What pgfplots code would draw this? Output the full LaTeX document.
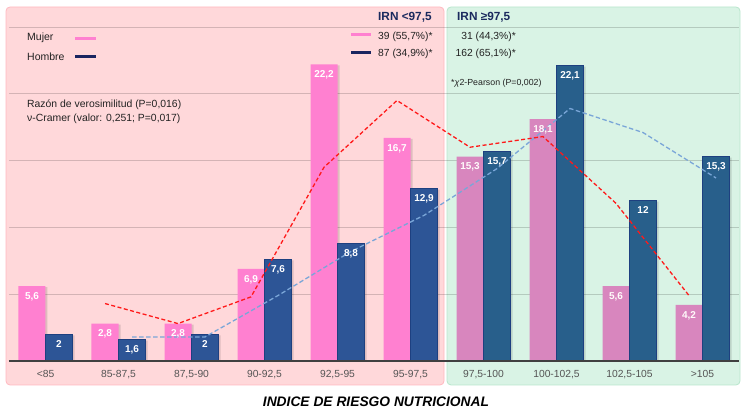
\documentclass[border=0pt]{standalone}
\usepackage{pgfplots}
\pgfplotsset{compat=1.18}
\usepackage{fontspec}
\setmainfont{Liberation Sans}
\definecolor{pinkbg}{HTML}{FFD8DA}
\definecolor{pinkbd}{HTML}{FFB8C0}
\definecolor{greenbg}{HTML}{D9F3E5}
\definecolor{greenbd}{HTML}{B8E6CC}
\definecolor{mujA}{HTML}{FF80D0}
\definecolor{mujB}{HTML}{D886BE}
\definecolor{homA}{HTML}{2D5596}
\definecolor{homB}{HTML}{285F8B}
\definecolor{homBd}{HTML}{1E4080}
\definecolor{redl}{HTML}{FF1A1A}
\definecolor{bluel}{HTML}{7AA6D8}
\definecolor{navy}{HTML}{1B2A5E}
\definecolor{navyl}{HTML}{1A2560}
\definecolor{ticktxt}{HTML}{555555}
\definecolor{txt}{HTML}{222222}
\begin{document}
\begin{tikzpicture}[x=1pt,y=1pt]
\useasboundingbox (0,0) rectangle (750,414);
\filldraw[fill=pinkbg, draw=pinkbd, line width=0.8pt, rounded corners=4pt] (6,29) rectangle (444,407);
\filldraw[fill=greenbg, draw=greenbd, line width=0.8pt, rounded corners=4pt] (447,29) rectangle (740,407);
\begin{axis}[
  at={(9pt,53pt)}, anchor=south west, scale only axis,
  width=730pt, height=334pt,
  xmin=-0.5, xmax=9.5, ymin=0, ymax=25,
  axis line style={draw=none}, major tick length=0pt,
  xtick={0,...,9},
  xticklabels={{<85},{85-87,5},{87,5-90},{90-92,5},{92,5-95},{95-97,5},{97,5-100},{100-102,5},{102,5-105},{>105}},
  ytick={5,10,...,25}, yticklabels={},
  ymajorgrids, grid style={black, opacity=0.17, line width=0.7pt},
  xticklabel style={font=\fontsize{10.3}{12}\selectfont, text=ticktxt, text height=7.5pt, text depth=0pt, inner sep=0pt, anchor=north, yshift=-9pt},
  clip=false,
  every node near coord/.append style={font=\bfseries\fontsize{10}{12}\selectfont, text height=7.2pt, text depth=0pt, inner sep=0pt, yshift=-13.5pt},
  /pgf/number format/.cd, use comma, assume math mode=true
]
% shadows
\addplot[ybar, bar width=27pt, bar shift=-11.5pt, fill=black, opacity=0.13, draw=none, forget plot, yshift=-1pt]
  coordinates {(0,5.6)(1,2.8)(2,2.8)(3,6.9)(4,22.2)(5,16.7)(6,15.3)(7,18.1)(8,5.6)(9,4.2)};
% Mujer
\addplot[ybar, bar width=27pt, bar shift=-13.5pt, fill=mujA, draw=none, nodes near coords, every node near coord/.append style={text=white, xshift=-13.5pt}]
  coordinates {(0,5.6)(1,2.8)(2,2.8)(3,6.9)(4,22.2)(5,16.7)};
\addplot[ybar, bar width=27pt, bar shift=-13.5pt, fill=mujB, draw=none, nodes near coords, every node near coord/.append style={text=white!92!pink, xshift=-13.5pt}]
  coordinates {(6,15.3)(7,18.1)(8,5.6)(9,4.2)};
\addplot[ybar, bar width=27pt, bar shift=15.5pt, fill=black, opacity=0.13, draw=none, forget plot, yshift=-1pt]
  coordinates {(0,2)(1,1.6)(2,2)(3,7.6)(4,8.8)(5,12.9)(6,15.7)(7,22.1)(8,12)(9,15.3)};
% Hombre
\addplot[ybar, bar width=27pt, bar shift=13.5pt, fill=homA, draw=homBd, line width=0.7pt, nodes near coords, every node near coord/.append style={text=white, xshift=13.5pt}]
  coordinates {(0,2)(1,1.6)(2,2)(3,7.6)(4,8.8)(5,12.9)};
\addplot[ybar, bar width=27pt, bar shift=13.5pt, fill=homB, draw=homBd, line width=0.7pt, nodes near coords, every node near coord/.append style={text=white, xshift=13.5pt}]
  coordinates {(6,15.7)(7,22.1)(8,12)(9,15.3)};
% lines
\addplot[sharp plot, mark=none, bluel, line width=1.3pt, dash pattern=on 4.5pt off 2.5pt]
  coordinates {(1.185,1.8)(2.185,1.8)(3.185,4.9)(4.185,8.2)(5.185,10.9)(6.185,14.4)(7.185,18.9)(8.185,17.1)(9.185,13.7)};
\addplot[sharp plot, mark=none, redl, line width=1.3pt, dash pattern=on 4pt off 2.5pt]
  coordinates {(0.815,4.3)(1.815,2.8)(2.815,4.8)(3.815,14.5)(4.815,19.5)(5.815,16.0)(6.815,16.8)(7.815,11.8)(8.815,4.9)};
\draw[black!75, line width=1.3pt] (axis cs:-0.5,0) -- (axis cs:9.5,0);
\end{axis}
% legend and texts
\node[anchor=base west, inner sep=0pt, text=txt, font=\fontsize{10.5}{12}\selectfont] at (27,373) {Mujer};
\node[anchor=base west, inner sep=0pt, text=txt, font=\fontsize{10.5}{12}\selectfont] at (27,353) {Hombre};
\draw[mujA, line width=3pt] (75,375) -- (96,375);
\draw[navyl, line width=3pt] (75,357.3) -- (96,357.3);
\draw[mujA, line width=3pt] (351,379.3) -- (371,379.3);
\draw[navyl, line width=3pt] (351,361.3) -- (371,361.3);
\node[anchor=base west, inner sep=0pt, text=txt, font=\fontsize{10.3}{12}\selectfont] at (378,374) {39 (55,7\%)*};
\node[anchor=base west, inner sep=0pt, text=txt, font=\fontsize{10.3}{12}\selectfont] at (378,357) {87 (34,9\%)*};
\node[anchor=base west, inner sep=0pt, text=navy, font=\bfseries\fontsize{11.8}{14}\selectfont] at (378,393) {IRN <97,5};
\node[anchor=base west, inner sep=0pt, text=navy, font=\bfseries\fontsize{11.8}{14}\selectfont] at (457,393) {IRN ≥97,5};
\node[anchor=base east, inner sep=0pt, text=txt, font=\fontsize{10.3}{12}\selectfont] at (516,374) {31 (44,3\%)*};
\node[anchor=base east, inner sep=0pt, text=txt, font=\fontsize{10.3}{12}\selectfont] at (516,357) {162 (65,1\%)*};
\node[anchor=base west, inner sep=0pt, text=txt, font=\fontsize{8.8}{10}\selectfont] at (451,328) {*\textit{χ}2-Pearson (P=0,002)};
\node[anchor=base west, inner sep=0pt, text=txt, font=\fontsize{10.4}{12}\selectfont] at (27,306) {Razón de verosimilitud (P=0,016)};
\node[anchor=base west, inner sep=0pt, text=txt, font=\fontsize{10.4}{12}\selectfont] at (27,292) {ν-Cramer (valor: 0,251; P=0,017)};
\node[anchor=base, inner sep=0pt, text=black, font=\bfseries\itshape\fontsize{13.8}{16}\selectfont] at (376,7.5) {INDICE DE RIESGO NUTRICIONAL};
\end{tikzpicture}
\end{document}
